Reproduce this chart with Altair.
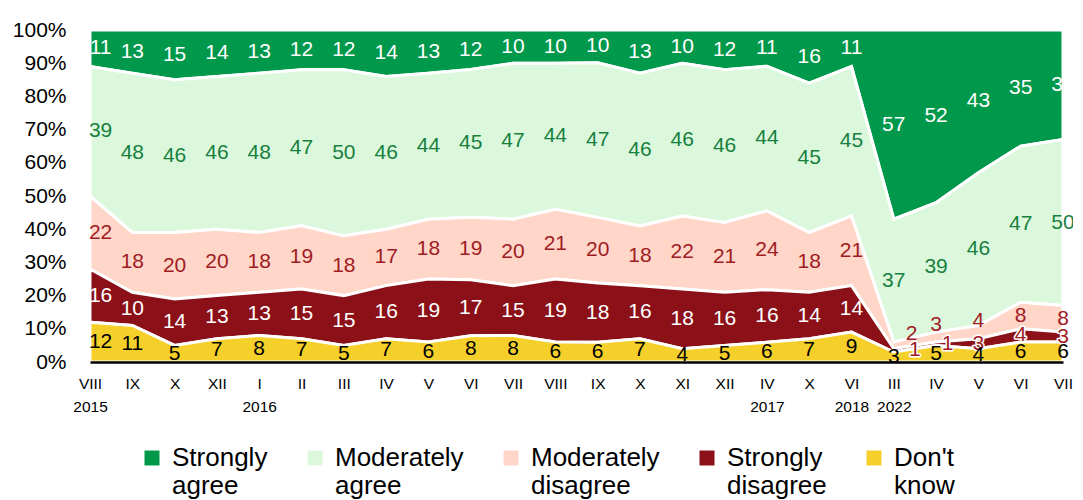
import altair as alt
import pandas as pd

months = ["VIII","IX","X","XII","I","II","III","IV","V","VI","VII","VIII","IX","X","XI","XII","IV","X","VI","III","IV","V","VI","VII"]
years = ["2015","","","","2016","","","","","","","","","","","","2017","","2018","2022","","","",""]

series = ["Strongly agree","Moderately agree","Moderately disagree","Strongly disagree","Don't know"]
strongly_agree = [11,13,15,14,13,12,12,14,13,12,10,10,10,13,10,12,11,16,11,57,52,43,35,33]
moderately_agree = [39,48,46,46,48,47,50,46,44,45,47,44,47,46,46,46,44,45,45,37,39,46,47,50]
moderately_disagree = [22,18,20,20,18,19,18,17,18,19,20,21,20,18,22,21,24,18,21,2,3,4,8,8]
strongly_disagree = [16,10,14,13,13,15,15,16,19,17,15,19,18,16,18,16,16,14,14,1,1,3,4,3]
dont_know = [12,11,5,7,8,7,5,7,6,8,8,6,6,7,4,5,6,7,9,3,5,4,6,6]

fill_colors = ["#00984a", "#dcf8dc", "#ffd6c8", "#8c1018", "#f5cf2a"]
text_colors = ["#ffffff", "#17803f", "#a01c24", "#ffffff", "#000000"]
small_text_color = "#a01c24"

values = [strongly_agree, moderately_agree, moderately_disagree, strongly_disagree, dont_know]
rows = []
for s_idx, (name, vals) in enumerate(zip(series, values)):
    for i, v in enumerate(vals):
        tc = text_colors[s_idx]
        if name == "Strongly disagree" and v < 5:
            tc = small_text_color
        rows.append({"i": i, "series": name, "value": v, "order": 4 - s_idx, "tc": tc})
df = pd.DataFrame(rows)

pairs = ",".join("['%s','%s']" % (m, y) for m, y in zip(months, years))
label_expr = "[%s][datum.value]" % pairs

base = alt.Chart(df).transform_stack(
    stack="value", groupby=["i"], sort=[alt.SortField("order", order="ascending")],
    as_=["y0", "y1"], offset="normalize"
)

x_scale = alt.Scale(domain=[0, 23], nice=False, zero=False)
y_scale = alt.Scale(domain=[0, 1], nice=False)
x_axis = alt.Axis(
    values=list(range(24)), labelExpr=label_expr, title=None, grid=False, ticks=False,
    labelOverlap=False, labelFlush=False, labelFontSize=15.5, labelColor="#000000",
    labelPadding=14, labelLineHeight=23, labelFont="Liberation Sans",
    domainColor="#000000", domainWidth=2.5, zindex=1,
)
y_axis = alt.Axis(
    values=[0, 0.1, 0.2, 0.3, 0.4, 0.5, 0.6, 0.7, 0.8, 0.9, 1.0], format=".0%",
    title=None, grid=False, ticks=False, domain=False, labelFontSize=21,
    labelColor="#000000", labelPadding=24, labelFont="Liberation Sans",
    labelOverlap=False, labelFlush=False,
)

areas = base.mark_area(stroke="white", strokeWidth=3, opacity=1).encode(
    x=alt.X("i:Q", scale=x_scale, axis=x_axis),
    y=alt.Y("y0:Q", scale=y_scale, axis=y_axis),
    y2="y1:Q",
    color=alt.Color(
        "series:N",
        scale=alt.Scale(domain=series, range=fill_colors),
        sort=series,
        legend=alt.Legend(
            title=None, orient="none", legendX=49, legendY=415, direction="horizontal",
            symbolType="square", symbolSize=225, symbolStrokeWidth=0, symbolOpacity=1,
            labelFontSize=26, labelFont="Liberation Sans", labelColor="#000000",
            labelExpr="split(datum.label, ' ')", labelLimit=300, labelOffset=7,
            columnPadding=34, labelBaseline="middle",
        ),
    ),
    order=alt.Order("order:Q"),
)

label_base = base.transform_calculate(
    ymid="(datum.y0 + datum.y1) / 2 + ((datum.series == 'Moderately disagree' && datum.value < 5) ? 0.035 : 0)",
    xlab="datum.i + (datum.i == 0 ? 0.25 : 0)"
         " + ((datum.i == 19 && datum.series == 'Moderately disagree') ? 0.42 : 0)"
         " + ((datum.i == 19 && datum.series == 'Strongly disagree') ? 0.5 : 0)"
         " + ((datum.i == 20 && datum.series == 'Strongly disagree') ? 0.27 : 0)",
)

halo = label_base.transform_filter(
    "datum.series == 'Strongly disagree' && datum.value < 5"
).mark_text(
    fontSize=21, font="Liberation Sans", baseline="middle", align="center",
    stroke="white", strokeWidth=3, strokeJoin="round",
).encode(
    x=alt.X("xlab:Q", scale=x_scale, axis=x_axis),
    y=alt.Y("ymid:Q", scale=y_scale, axis=y_axis),
    text=alt.Text("value:Q"),
    color=alt.value("white"),
)

labels = label_base.mark_text(fontSize=21, font="Liberation Sans", baseline="middle", align="center").encode(
    x=alt.X("xlab:Q", scale=x_scale, axis=x_axis),
    y=alt.Y("ymid:Q", scale=y_scale, axis=y_axis),
    text=alt.Text("value:Q"),
    color=alt.Color("tc:N", scale=None),
)

chart = alt.layer(areas, halo, labels).properties(
    width=973, height=332,
    autosize=alt.AutoSizeParams(type="none"),
    padding={"left": 82, "top": 22, "right": 10, "bottom": 138},
).configure_view(stroke=None)

chart.save("out.html", embed_options={"renderer": "svg", "actions": False})
